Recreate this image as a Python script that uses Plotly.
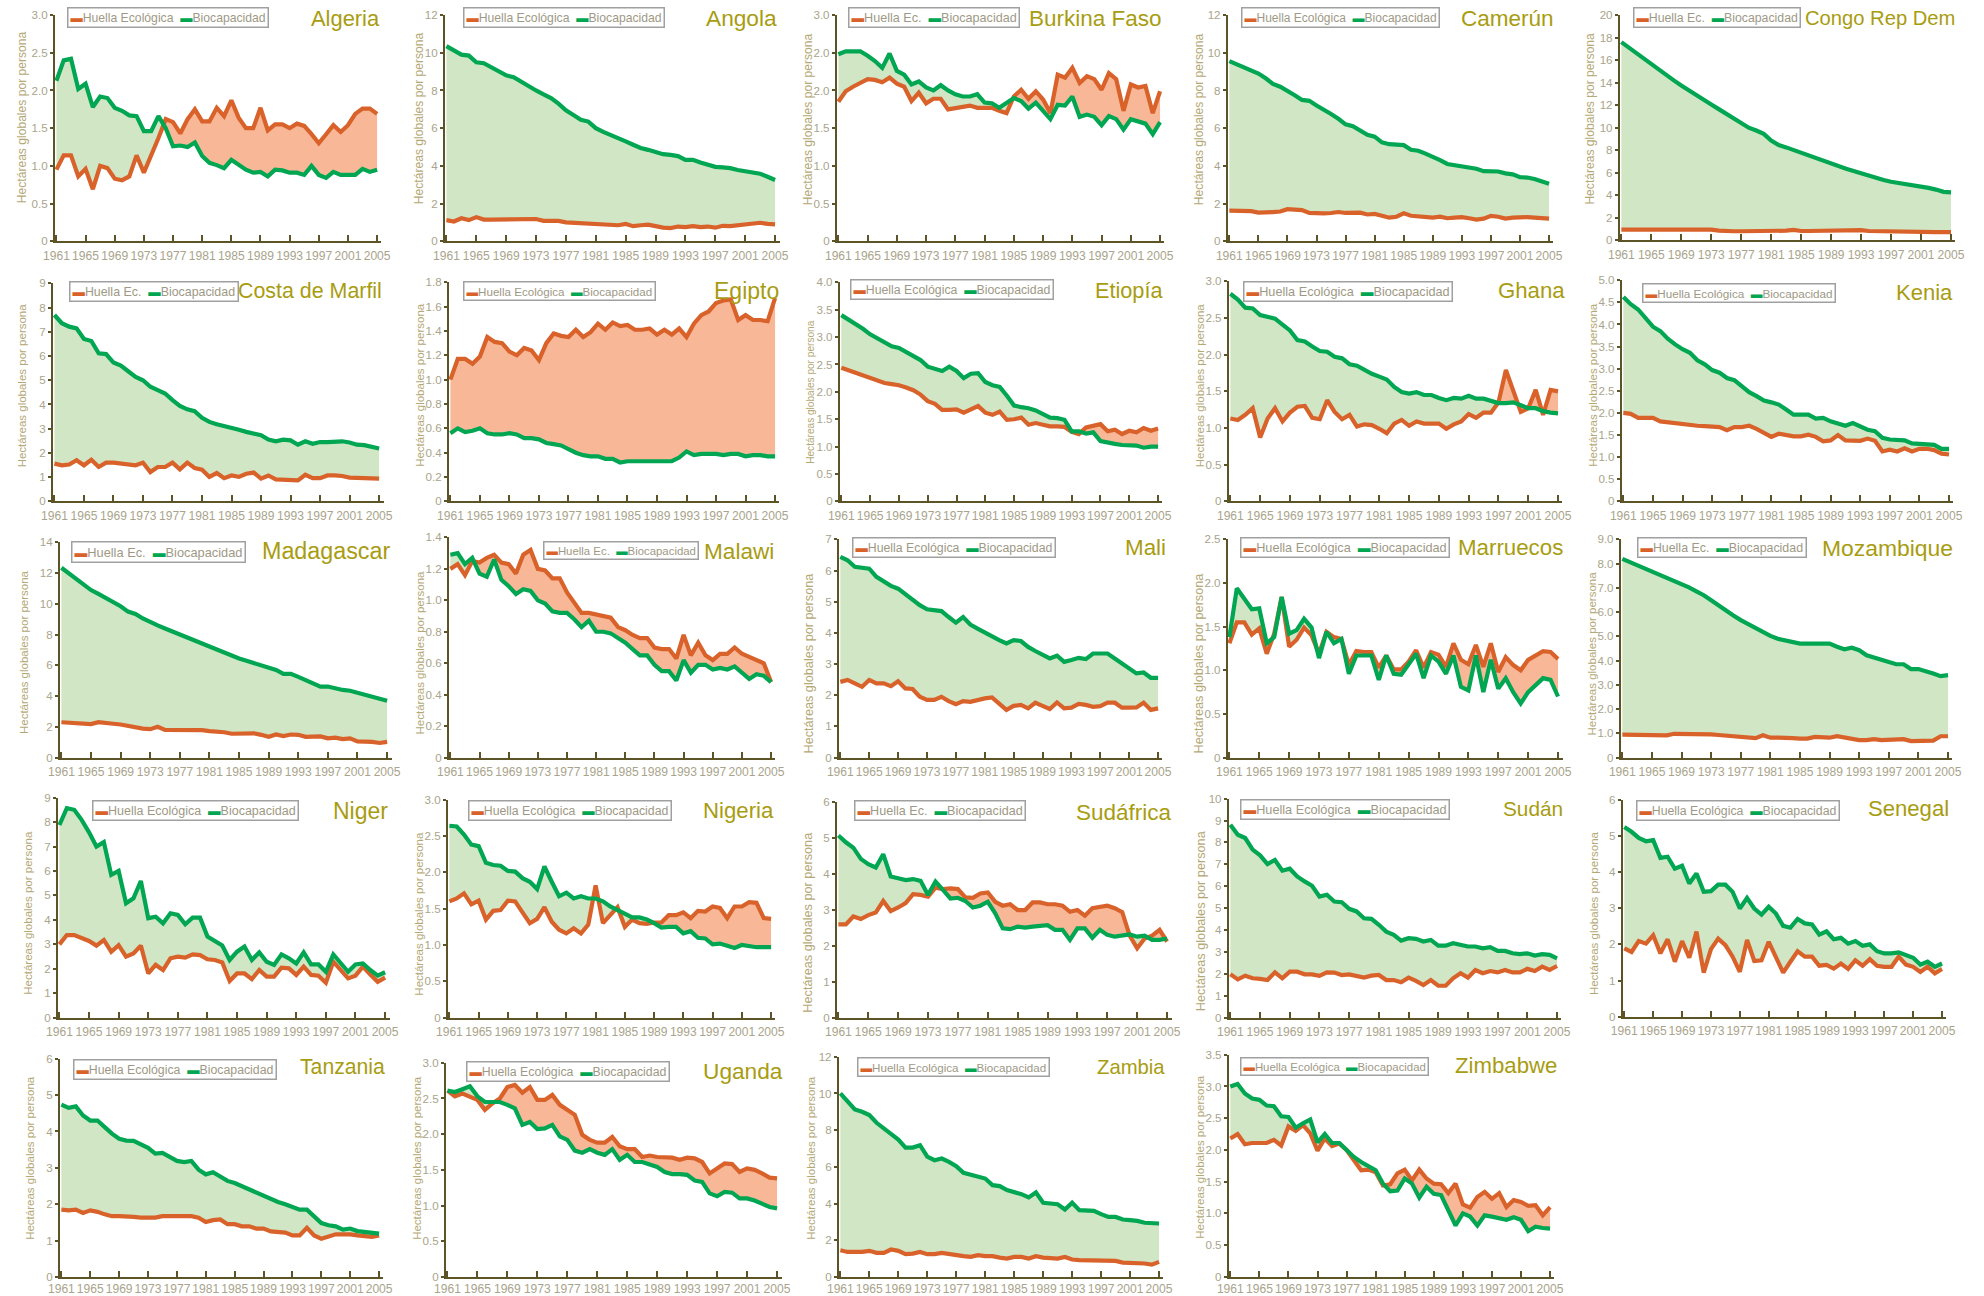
import plotly.graph_objects as go

# The page is photographed as a 2000 x 1312 CSS-pixel area (8 px body margin
# included) reduced to 1984 x 1296; positions below are in final image pixels
# and are mapped back to figure pixels with these factors.
SHOT_W, SHOT_H = 1984, 1296
CSS_W, CSS_H = 2000, 1312
BODY_MARGIN = 8
FIG_W, FIG_H = 1984, 1296
SX, SY = SHOT_W / CSS_W, SHOT_H / CSS_H

years = list(range(1961, 2006))
tick_years = list(range(1961, 2006, 4))

# ---------------------------------------------------------------------------
# Huella Ecológica (huella) y Biocapacidad (bio), hectáreas globales por persona
# ---------------------------------------------------------------------------
algeria_huella = [0.95, 1.14, 1.14, 0.86, 0.96, 0.69, 1.00, 0.97, 0.83, 0.81,
                  0.86, 1.14, 0.91, 1.13, 1.37, 1.62, 1.58, 1.43, 1.62, 1.75,
                  1.59, 1.59, 1.77, 1.66, 1.87, 1.64, 1.50, 1.50, 1.77, 1.47,
                  1.55, 1.55, 1.50, 1.56, 1.53, 1.42, 1.30, 1.42, 1.54, 1.45,
                  1.54, 1.69, 1.76, 1.76, 1.69]
algeria_bio = [2.13, 2.40, 2.42, 2.02, 2.09, 1.78, 1.92, 1.90, 1.77, 1.73,
               1.67, 1.66, 1.46, 1.46, 1.66, 1.50, 1.26, 1.27, 1.25, 1.31,
               1.13, 1.04, 1.01, 0.97, 1.08, 1.01, 0.95, 0.91, 0.92, 0.86,
               0.95, 0.94, 0.91, 0.91, 0.88, 1.00, 0.88, 0.84, 0.92, 0.88,
               0.88, 0.88, 0.96, 0.92, 0.95]

angola_huella = [1.12, 1.05, 1.22, 1.12, 1.28, 1.15, 1.15, 1.15, 1.15, 1.20,
                 1.20, 1.20, 1.18, 1.08, 1.08, 1.08, 1.00, 0.98, 0.95, 0.92,
                 0.92, 0.88, 0.85, 0.85, 0.92, 0.80, 0.85, 0.88, 0.80, 0.72,
                 0.70, 0.78, 0.75, 0.80, 0.75, 0.78, 0.72, 0.82, 0.80, 0.85,
                 0.90, 0.95, 0.98, 0.92, 0.90]
angola_bio = [10.35, 10.15, 9.90, 9.85, 9.50, 9.45, 9.25, 9.05, 8.80, 8.70,
              8.45, 8.20, 8.00, 7.80, 7.60, 7.30, 6.95, 6.70, 6.45, 6.35,
              6.00, 5.80, 5.65, 5.50, 5.30, 5.12, 4.95, 4.85, 4.72, 4.62,
              4.58, 4.52, 4.32, 4.32, 4.18, 4.08, 3.95, 3.92, 3.88, 3.78,
              3.70, 3.62, 3.58, 3.42, 3.25]

burkina_huella = [1.85, 1.99, 2.05, 2.10, 2.15, 2.14, 2.11, 2.17, 2.09, 2.05,
                  1.86, 1.97, 1.83, 1.89, 1.89, 1.75, 1.77, 1.78, 1.80, 1.77,
                  1.77, 1.77, 1.73, 1.70, 1.92, 2.01, 1.89, 1.99, 1.88, 1.70,
                  2.21, 2.17, 2.30, 2.10, 2.19, 2.15, 2.01, 2.23, 2.15, 1.73,
                  2.08, 2.04, 2.06, 1.70, 1.99]
burkina_bio = [2.48, 2.52, 2.52, 2.52, 2.46, 2.39, 2.30, 2.49, 2.26, 2.21,
               2.08, 2.12, 2.04, 2.00, 2.07, 2.00, 1.95, 1.92, 1.92, 1.95,
               1.84, 1.83, 1.77, 1.84, 1.90, 1.86, 1.76, 1.84, 1.73, 1.62,
               1.81, 1.80, 1.92, 1.65, 1.68, 1.65, 1.54, 1.66, 1.62, 1.48,
               1.62, 1.59, 1.56, 1.42, 1.58]

camerun_huella = [1.62, 1.62, 1.62, 1.60, 1.52, 1.52, 1.55, 1.58, 1.70, 1.68,
                  1.65, 1.50, 1.48, 1.48, 1.50, 1.55, 1.50, 1.50, 1.52, 1.42,
                  1.45, 1.35, 1.25, 1.30, 1.48, 1.35, 1.32, 1.28, 1.25, 1.30,
                  1.22, 1.25, 1.28, 1.22, 1.15, 1.20, 1.35, 1.30, 1.20, 1.25,
                  1.28, 1.28, 1.25, 1.22, 1.20]
camerun_bio = [9.56, 9.40, 9.25, 9.05, 8.90, 8.65, 8.35, 8.20, 8.00, 7.75,
               7.50, 7.45, 7.20, 7.00, 6.75, 6.50, 6.20, 6.10, 5.85, 5.65,
               5.55, 5.25, 5.15, 5.10, 5.10, 4.85, 4.80, 4.65, 4.50, 4.30,
               4.10, 4.05, 3.95, 3.95, 3.85, 3.72, 3.70, 3.70, 3.60, 3.55,
               3.40, 3.38, 3.30, 3.20, 3.05]

congo_huella = [0.95, 0.95, 0.95, 0.95, 0.95, 0.95, 0.95, 0.95, 0.95, 0.95,
                0.95, 0.95, 0.95, 0.85, 0.80, 0.80, 0.80, 0.80, 0.82, 0.82,
                0.83, 0.84, 0.85, 0.92, 0.82, 0.82, 0.83, 0.84, 0.85, 0.88,
                0.90, 0.90, 0.90, 0.82, 0.80, 0.80, 0.80, 0.80, 0.80, 0.78,
                0.72, 0.72, 0.72, 0.72, 0.72]
congo_bio = [17.60, 17.10, 16.60, 16.10, 15.60, 15.10, 14.65, 14.20, 13.75, 13.30,
             12.90, 12.45, 12.06, 11.65, 11.25, 10.85, 10.40, 10.00, 9.75, 9.45,
             8.85, 8.45, 8.25, 8.00, 7.80, 7.55, 7.30, 7.10, 6.85, 6.60,
             6.35, 6.15, 5.95, 5.70, 5.50, 5.35, 5.20, 5.10, 5.00, 4.90,
             4.75, 4.65, 4.50, 4.30, 4.25]

costa_huella = [1.56, 1.49, 1.52, 1.70, 1.49, 1.72, 1.42, 1.60, 1.60, 1.56,
                1.56, 1.49, 1.60, 1.21, 1.42, 1.42, 1.60, 1.32, 1.60, 1.38,
                1.31, 1.01, 1.17, 0.96, 1.07, 1.01, 1.14, 1.19, 0.94, 1.07,
                0.91, 0.91, 0.90, 0.87, 1.10, 0.96, 0.96, 1.07, 1.07, 1.05,
                0.98, 0.96, 0.95, 0.94, 0.94]
costa_bio = [7.69, 7.35, 7.21, 7.14, 6.70, 6.62, 6.11, 6.08, 5.73, 5.60,
             5.37, 5.14, 5.00, 4.73, 4.59, 4.45, 4.18, 3.94, 3.80, 3.72,
             3.45, 3.28, 3.18, 3.11, 3.07, 2.96, 2.87, 2.80, 2.73, 2.55,
             2.48, 2.55, 2.52, 2.34, 2.48, 2.38, 2.45, 2.45, 2.45, 2.48,
             2.43, 2.34, 2.32, 2.25, 2.18]

egipto_huella = [1.00, 1.17, 1.17, 1.13, 1.19, 1.35, 1.31, 1.30, 1.23, 1.20,
                 1.26, 1.24, 1.16, 1.30, 1.38, 1.36, 1.35, 1.41, 1.35, 1.39,
                 1.46, 1.41, 1.47, 1.44, 1.45, 1.41, 1.41, 1.42, 1.37, 1.41,
                 1.37, 1.42, 1.35, 1.46, 1.53, 1.56, 1.63, 1.65, 1.66, 1.49,
                 1.53, 1.49, 1.49, 1.48, 1.67]
egipto_bio = [0.56, 0.60, 0.57, 0.58, 0.60, 0.56, 0.55, 0.55, 0.56, 0.55,
              0.52, 0.52, 0.51, 0.48, 0.47, 0.46, 0.43, 0.40, 0.38, 0.37,
              0.37, 0.35, 0.35, 0.32, 0.33, 0.33, 0.33, 0.33, 0.33, 0.33,
              0.33, 0.36, 0.41, 0.38, 0.39, 0.39, 0.39, 0.38, 0.39, 0.39,
              0.37, 0.38, 0.38, 0.37, 0.37]

etiopia_huella = [2.44, 2.39, 2.34, 2.29, 2.25, 2.20, 2.16, 2.14, 2.12, 2.08,
                  2.03, 1.95, 1.83, 1.78, 1.67, 1.67, 1.68, 1.62, 1.68, 1.74,
                  1.62, 1.58, 1.64, 1.49, 1.50, 1.53, 1.40, 1.43, 1.40, 1.37,
                  1.37, 1.36, 1.27, 1.23, 1.35, 1.38, 1.41, 1.28, 1.31, 1.23,
                  1.29, 1.26, 1.34, 1.29, 1.33]
etiopia_bio = [3.40, 3.32, 3.24, 3.15, 3.05, 2.97, 2.90, 2.83, 2.80, 2.72,
               2.65, 2.58, 2.46, 2.41, 2.38, 2.46, 2.38, 2.25, 2.33, 2.34,
               2.18, 2.12, 2.09, 1.93, 1.75, 1.72, 1.70, 1.66, 1.60, 1.53,
               1.52, 1.49, 1.28, 1.28, 1.24, 1.26, 1.10, 1.07, 1.05, 1.03,
               1.03, 1.02, 0.98, 1.00, 1.00]

ghana_huella = [1.13, 1.11, 1.18, 1.27, 0.87, 1.13, 1.27, 1.09, 1.21, 1.29,
                1.30, 1.14, 1.12, 1.38, 1.22, 1.12, 1.18, 1.02, 1.05, 1.04,
                0.99, 0.93, 1.06, 1.11, 1.03, 1.09, 1.06, 1.06, 1.06, 0.99,
                1.05, 1.09, 1.19, 1.14, 1.21, 1.21, 1.35, 1.79, 1.50, 1.22,
                1.27, 1.52, 1.18, 1.52, 1.50]
ghana_bio = [2.83, 2.75, 2.64, 2.63, 2.54, 2.52, 2.49, 2.41, 2.33, 2.20,
             2.18, 2.11, 2.05, 2.04, 1.97, 1.95, 1.87, 1.85, 1.79, 1.74,
             1.70, 1.66, 1.56, 1.49, 1.47, 1.49, 1.45, 1.45, 1.41, 1.38,
             1.41, 1.40, 1.44, 1.40, 1.40, 1.37, 1.34, 1.34, 1.35, 1.31,
             1.27, 1.27, 1.23, 1.21, 1.20]

kenia_huella = [2.00, 1.98, 1.89, 1.89, 1.89, 1.81, 1.79, 1.76, 1.73, 1.71,
                1.71, 1.70, 1.68, 1.68, 1.61, 1.68, 1.68, 1.71, 1.64, 1.55,
                1.46, 1.53, 1.49, 1.47, 1.47, 1.51, 1.46, 1.36, 1.38, 1.50,
                1.38, 1.37, 1.37, 1.42, 1.37, 1.13, 1.17, 1.13, 1.20, 1.13,
                1.19, 1.19, 1.16, 1.08, 1.06]
kenia_bio = [4.62, 4.46, 4.34, 4.15, 3.95, 3.85, 3.68, 3.55, 3.44, 3.36,
             3.19, 3.10, 2.97, 2.91, 2.79, 2.74, 2.61, 2.47, 2.38, 2.28,
             2.24, 2.19, 2.08, 1.96, 1.96, 1.96, 1.87, 1.89, 1.81, 1.76,
             1.71, 1.77, 1.70, 1.62, 1.59, 1.44, 1.40, 1.38, 1.38, 1.31,
             1.30, 1.28, 1.28, 1.19, 1.19]

madagascar_huella = [2.30, 2.28, 2.25, 2.20, 2.18, 2.30, 2.22, 2.20, 2.15, 2.05,
                     1.95, 1.88, 1.85, 2.00, 1.80, 1.80, 1.80, 1.80, 1.80, 1.78,
                     1.72, 1.70, 1.65, 1.55, 1.55, 1.55, 1.58, 1.48, 1.35, 1.50,
                     1.40, 1.50, 1.48, 1.35, 1.35, 1.38, 1.25, 1.30, 1.20, 1.25,
                     1.05, 1.05, 1.02, 0.95, 1.02]
madagascar_bio = [12.35, 12.00, 11.60, 11.25, 10.90, 10.65, 10.40, 10.15, 9.85, 9.50,
                  9.35, 9.05, 8.80, 8.60, 8.40, 8.20, 8.00, 7.80, 7.60, 7.40,
                  7.20, 7.00, 6.80, 6.60, 6.45, 6.30, 6.15, 6.00, 5.85, 5.70,
                  5.45, 5.45, 5.25, 5.05, 4.85, 4.62, 4.62, 4.50, 4.40, 4.35,
                  4.22, 4.10, 3.98, 3.85, 3.70]

malawi_huella = [1.20, 1.23, 1.16, 1.25, 1.24, 1.27, 1.29, 1.24, 1.23, 1.17,
                 1.29, 1.32, 1.20, 1.19, 1.14, 1.14, 1.05, 0.99, 0.92, 0.92,
                 0.91, 0.90, 0.89, 0.83, 0.81, 0.78, 0.76, 0.76, 0.70, 0.69,
                 0.69, 0.63, 0.78, 0.65, 0.73, 0.65, 0.62, 0.66, 0.66, 0.70,
                 0.66, 0.64, 0.62, 0.60, 0.48]
malawi_bio = [1.29, 1.30, 1.23, 1.27, 1.17, 1.15, 1.26, 1.13, 1.09, 1.04,
              1.07, 1.06, 1.00, 0.98, 0.93, 0.92, 0.92, 0.88, 0.83, 0.87,
              0.80, 0.80, 0.79, 0.76, 0.73, 0.69, 0.65, 0.65, 0.59, 0.55,
              0.55, 0.49, 0.62, 0.54, 0.59, 0.59, 0.56, 0.57, 0.56, 0.58,
              0.54, 0.50, 0.53, 0.52, 0.48]

mali_huella = [2.43, 2.49, 2.38, 2.27, 2.49, 2.38, 2.38, 2.29, 2.45, 2.22,
               2.20, 1.95, 1.85, 1.85, 1.95, 1.81, 1.71, 1.81, 1.79, 1.85,
               1.90, 1.93, 1.74, 1.53, 1.66, 1.69, 1.58, 1.76, 1.66, 1.56,
               1.77, 1.58, 1.60, 1.72, 1.69, 1.63, 1.65, 1.76, 1.76, 1.60,
               1.60, 1.61, 1.76, 1.53, 1.58]
mali_bio = [6.44, 6.33, 6.12, 6.08, 6.06, 5.80, 5.64, 5.51, 5.42, 5.23,
            5.08, 4.89, 4.76, 4.73, 4.70, 4.51, 4.33, 4.51, 4.27, 4.14,
            4.01, 3.91, 3.77, 3.66, 3.77, 3.74, 3.55, 3.42, 3.29, 3.18,
            3.27, 3.07, 3.13, 3.20, 3.16, 3.34, 3.34, 3.34, 3.18, 3.02,
            2.86, 2.70, 2.73, 2.56, 2.56]

marruecos_huella = [1.31, 1.55, 1.55, 1.41, 1.48, 1.19, 1.42, 1.84, 1.27, 1.35,
                    1.49, 1.40, 1.19, 1.44, 1.38, 1.36, 1.06, 1.22, 1.21, 1.21,
                    1.03, 1.17, 1.01, 1.01, 1.10, 1.23, 1.03, 1.21, 1.18, 1.04,
                    1.31, 1.12, 1.07, 1.29, 1.04, 1.31, 0.98, 1.15, 1.06, 1.00,
                    1.12, 1.17, 1.22, 1.21, 1.13]
marruecos_bio = [1.38, 1.94, 1.82, 1.70, 1.71, 1.31, 1.38, 1.84, 1.42, 1.46,
                 1.59, 1.49, 1.14, 1.44, 1.31, 1.36, 0.96, 1.17, 1.17, 1.17,
                 0.89, 1.17, 0.96, 0.95, 1.07, 1.19, 0.91, 1.17, 1.10, 0.96,
                 1.17, 0.81, 0.77, 1.17, 0.75, 1.12, 0.79, 0.91, 0.75, 0.62,
                 0.75, 0.83, 0.91, 0.89, 0.70]

mozambique_huella = [0.95, 0.94, 0.93, 0.92, 0.92, 0.92, 0.92, 0.98, 0.98, 0.98,
                     0.97, 0.97, 0.96, 0.93, 0.90, 0.90, 0.88, 0.84, 0.80, 0.92,
                     0.82, 0.82, 0.83, 0.80, 0.78, 0.78, 0.85, 0.84, 0.82, 0.88,
                     0.83, 0.80, 0.72, 0.72, 0.76, 0.72, 0.72, 0.73, 0.76, 0.68,
                     0.68, 0.68, 0.70, 0.88, 0.88]
mozambique_bio = [8.20, 8.07, 7.93, 7.79, 7.65, 7.52, 7.40, 7.28, 7.17, 7.02,
                  6.86, 6.70, 6.49, 6.27, 6.05, 5.86, 5.67, 5.50, 5.35, 5.18,
                  5.02, 4.90, 4.84, 4.77, 4.70, 4.70, 4.70, 4.70, 4.70, 4.57,
                  4.47, 4.53, 4.43, 4.22, 4.12, 4.02, 3.92, 3.85, 3.85, 3.65,
                  3.65, 3.57, 3.47, 3.36, 3.40]

niger_huella = [3.00, 3.38, 3.38, 3.27, 3.14, 2.95, 3.18, 2.70, 2.97, 2.50,
                2.63, 2.95, 1.81, 2.16, 1.95, 2.43, 2.50, 2.46, 2.59, 2.56,
                2.39, 2.36, 2.26, 1.50, 1.81, 1.81, 1.58, 1.95, 1.68, 1.68,
                2.05, 2.02, 1.75, 2.09, 1.75, 1.72, 1.43, 2.29, 1.95, 1.61,
                1.72, 2.09, 1.77, 1.47, 1.64]
niger_bio = [7.88, 8.57, 8.50, 8.09, 7.58, 7.00, 7.18, 5.84, 6.00, 4.68,
             4.88, 5.59, 4.07, 4.13, 3.86, 4.27, 4.20, 3.82, 4.09, 4.09,
             3.32, 3.14, 2.95, 2.36, 2.70, 2.91, 2.36, 2.67, 2.29, 2.16,
             2.59, 2.43, 2.22, 2.67, 2.18, 2.18, 1.88, 2.59, 2.22, 1.88,
             2.18, 2.22, 1.95, 1.72, 1.86]

nigeria_huella = [1.60, 1.64, 1.71, 1.56, 1.61, 1.35, 1.47, 1.48, 1.61, 1.60,
                  1.45, 1.30, 1.36, 1.52, 1.32, 1.21, 1.16, 1.23, 1.16, 1.28,
                  1.82, 1.30, 1.41, 1.52, 1.25, 1.35, 1.30, 1.29, 1.31, 1.31,
                  1.41, 1.41, 1.45, 1.37, 1.47, 1.46, 1.53, 1.51, 1.37, 1.53,
                  1.53, 1.59, 1.58, 1.37, 1.36]
nigeria_bio = [2.64, 2.63, 2.52, 2.38, 2.36, 2.13, 2.10, 2.09, 2.02, 2.01,
               1.92, 1.87, 1.77, 2.08, 1.87, 1.67, 1.72, 1.64, 1.67, 1.64,
               1.64, 1.60, 1.53, 1.48, 1.44, 1.38, 1.38, 1.35, 1.30, 1.24,
               1.25, 1.25, 1.16, 1.19, 1.10, 1.09, 1.01, 1.02, 0.99, 0.96,
               1.00, 0.98, 0.97, 0.97, 0.97]

sudafrica_huella = [2.59, 2.59, 2.81, 2.74, 2.85, 2.92, 3.24, 2.96, 3.06, 3.18,
                    3.43, 3.41, 3.36, 3.61, 3.57, 3.59, 3.57, 3.34, 3.33, 3.45,
                    3.48, 3.22, 3.11, 3.15, 2.99, 2.99, 3.20, 3.20, 3.15, 3.15,
                    3.11, 2.94, 2.99, 2.83, 3.04, 3.08, 3.11, 3.04, 2.93, 2.28,
                    1.93, 2.20, 2.28, 2.44, 2.11]
sudafrica_bio = [5.06, 4.87, 4.72, 4.41, 4.26, 4.17, 4.54, 3.92, 3.87, 3.82,
                 3.85, 3.80, 3.41, 3.78, 3.55, 3.31, 3.33, 3.24, 3.06, 3.11,
                 3.22, 2.90, 2.48, 2.46, 2.53, 2.50, 2.53, 2.56, 2.57, 2.44,
                 2.44, 2.16, 2.48, 2.48, 2.22, 2.44, 2.30, 2.25, 2.28, 2.31,
                 2.25, 2.28, 2.16, 2.16, 2.20]

sudan_huella = [1.98, 1.75, 1.92, 1.80, 1.77, 1.72, 2.07, 1.80, 2.10, 2.10,
                1.98, 1.98, 1.91, 2.07, 2.06, 1.95, 1.98, 1.92, 1.83, 1.92,
                1.95, 1.72, 1.72, 1.62, 1.83, 1.68, 1.49, 1.72, 1.46, 1.46,
                1.80, 2.03, 1.83, 2.18, 2.03, 2.13, 2.07, 2.18, 2.07, 2.07,
                2.23, 2.13, 2.33, 2.18, 2.36]
sudan_bio = [8.81, 8.35, 8.20, 7.67, 7.41, 7.01, 7.20, 6.71, 6.80, 6.45,
             6.22, 6.02, 5.53, 5.61, 5.30, 5.27, 4.97, 4.85, 4.54, 4.51,
             4.24, 3.93, 3.78, 3.52, 3.63, 3.60, 3.48, 3.55, 3.29, 3.29,
             3.40, 3.32, 3.25, 3.25, 3.17, 3.22, 3.05, 3.05, 2.94, 2.90,
             2.94, 2.84, 2.90, 2.87, 2.71]

senegal_huella = [1.89, 1.79, 2.09, 2.02, 2.25, 1.75, 2.14, 1.52, 2.09, 1.63,
                  2.35, 1.22, 1.87, 2.16, 1.98, 1.66, 1.24, 2.12, 1.54, 1.56,
                  2.07, 1.63, 1.22, 1.52, 1.81, 1.66, 1.66, 1.41, 1.43, 1.33,
                  1.47, 1.32, 1.56, 1.41, 1.59, 1.41, 1.38, 1.38, 1.66, 1.44,
                  1.38, 1.24, 1.38, 1.20, 1.32]
senegal_bio = [5.24, 5.11, 4.94, 4.85, 4.88, 4.39, 4.42, 4.09, 4.17, 3.68,
               3.96, 3.45, 3.47, 3.65, 3.65, 3.45, 2.99, 3.28, 2.99, 2.82,
               3.04, 2.85, 2.51, 2.46, 2.70, 2.58, 2.55, 2.27, 2.36, 2.14,
               2.18, 2.02, 2.09, 1.96, 2.00, 1.81, 1.75, 1.75, 1.78, 1.70,
               1.63, 1.44, 1.52, 1.38, 1.47]

tanzania_huella = [1.85, 1.83, 1.85, 1.76, 1.83, 1.79, 1.72, 1.67, 1.67, 1.67,
                   1.65, 1.63, 1.63, 1.63, 1.67, 1.67, 1.67, 1.69, 1.67, 1.63,
                   1.51, 1.56, 1.58, 1.45, 1.45, 1.39, 1.39, 1.33, 1.33, 1.25,
                   1.24, 1.22, 1.14, 1.14, 1.35, 1.14, 1.05, 1.12, 1.17, 1.17,
                   1.17, 1.14, 1.12, 1.10, 1.14]
tanzania_bio = [4.74, 4.65, 4.69, 4.44, 4.30, 4.30, 4.12, 3.94, 3.80, 3.75,
                3.74, 3.64, 3.55, 3.39, 3.41, 3.30, 3.19, 3.16, 3.19, 2.95,
                2.82, 2.88, 2.75, 2.64, 2.58, 2.49, 2.40, 2.31, 2.24, 2.15,
                2.06, 2.00, 1.92, 1.85, 1.85, 1.65, 1.48, 1.42, 1.39, 1.30,
                1.33, 1.26, 1.24, 1.21, 1.19]

uganda_huella = [2.61, 2.53, 2.57, 2.52, 2.48, 2.34, 2.43, 2.50, 2.66, 2.69,
                 2.58, 2.66, 2.48, 2.48, 2.55, 2.41, 2.34, 2.27, 1.99, 1.92,
                 1.88, 1.88, 1.96, 1.83, 1.79, 1.79, 1.68, 1.70, 1.68, 1.67,
                 1.67, 1.64, 1.67, 1.66, 1.61, 1.45, 1.52, 1.59, 1.58, 1.47,
                 1.52, 1.50, 1.45, 1.39, 1.38]
uganda_bio = [2.61, 2.59, 2.63, 2.67, 2.53, 2.45, 2.45, 2.45, 2.41, 2.36,
              2.13, 2.17, 2.07, 2.08, 2.13, 1.97, 1.92, 1.77, 1.74, 1.79,
              1.74, 1.71, 1.79, 1.64, 1.71, 1.61, 1.61, 1.58, 1.54, 1.47,
              1.44, 1.44, 1.43, 1.35, 1.33, 1.17, 1.13, 1.19, 1.18, 1.10,
              1.10, 1.07, 1.03, 0.98, 0.96]

zambia_huella = [1.45, 1.36, 1.36, 1.36, 1.42, 1.31, 1.31, 1.49, 1.42, 1.24,
                 1.27, 1.36, 1.24, 1.24, 1.31, 1.24, 1.18, 1.13, 1.09, 1.18,
                 1.13, 1.13, 1.05, 1.00, 1.09, 1.09, 1.00, 1.13, 1.05, 1.00,
                 1.00, 1.09, 0.95, 0.91, 0.91, 0.87, 0.87, 0.87, 0.87, 0.78,
                 0.78, 0.78, 0.73, 0.67, 0.82]
zambia_bio = [10.00, 9.60, 9.13, 9.00, 8.82, 8.40, 8.09, 7.82, 7.49, 7.05,
              7.05, 7.18, 6.55, 6.36, 6.45, 6.27, 6.04, 5.67, 5.55, 5.49,
              5.36, 5.00, 4.95, 4.73, 4.64, 4.51, 4.33, 4.60, 4.04, 4.00,
              3.96, 3.67, 4.04, 3.64, 3.64, 3.60, 3.42, 3.27, 3.27, 3.13,
              3.09, 3.05, 2.95, 2.91, 2.91]

zimbabwe_huella = [2.18, 2.25, 2.09, 2.11, 2.11, 2.11, 2.16, 2.07, 2.37, 2.30,
                   2.39, 2.26, 1.99, 2.18, 2.06, 2.10, 2.00, 1.84, 1.68, 1.69,
                   1.65, 1.44, 1.46, 1.63, 1.69, 1.52, 1.69, 1.55, 1.47, 1.46,
                   1.32, 1.47, 1.14, 1.09, 1.26, 1.34, 1.23, 1.32, 1.10, 1.21,
                   1.18, 1.12, 1.13, 0.97, 1.10]
zimbabwe_bio = [3.00, 3.04, 2.89, 2.81, 2.79, 2.70, 2.69, 2.53, 2.52, 2.35,
                2.42, 2.48, 2.12, 2.25, 2.11, 2.11, 2.00, 1.89, 1.81, 1.74,
                1.68, 1.47, 1.35, 1.36, 1.55, 1.47, 1.25, 1.42, 1.31, 1.29,
                1.05, 0.81, 1.00, 0.95, 0.81, 0.97, 0.95, 0.92, 0.90, 0.94,
                0.90, 0.72, 0.79, 0.77, 0.76]

# name, huella, bio, y max, y step, decimals, legend label for the footprint
panels = [
    ("Algeria", algeria_huella, algeria_bio, 3.0, 0.5, 1, "Huella Ecológica"),
    ("Angola", angola_huella, angola_bio, 12, 2, 0, "Huella Ecológica"),
    ("Burkina Faso", burkina_huella, burkina_bio, 3.0, 0.5, 1, "Huella Ec."),
    ("Camerún", camerun_huella, camerun_bio, 12, 2, 0, "Huella Ecológica"),
    ("Congo Rep Dem", congo_huella, congo_bio, 20, 2, 0, "Huella Ec."),
    ("Costa de Marfil", costa_huella, costa_bio, 9, 1, 0, "Huella Ec."),
    ("Egipto", egipto_huella, egipto_bio, 1.8, 0.2, 1, "Huella Ecológica"),
    ("Etiopía", etiopia_huella, etiopia_bio, 4.0, 0.5, 1, "Huella Ecológica"),
    ("Ghana", ghana_huella, ghana_bio, 3.0, 0.5, 1, "Huella Ecológica"),
    ("Kenia", kenia_huella, kenia_bio, 5.0, 0.5, 1, "Huella Ecológica"),
    ("Madagascar", madagascar_huella, madagascar_bio, 14, 2, 0, "Huella Ec."),
    ("Malawi", malawi_huella, malawi_bio, 1.4, 0.2, 1, "Huella Ec."),
    ("Mali", mali_huella, mali_bio, 7, 1, 0, "Huella Ecológica"),
    ("Marruecos", marruecos_huella, marruecos_bio, 2.5, 0.5, 1, "Huella Ecológica"),
    ("Mozambique", mozambique_huella, mozambique_bio, 9.0, 1.0, 1, "Huella Ec."),
    ("Niger", niger_huella, niger_bio, 9, 1, 0, "Huella Ecológica"),
    ("Nigeria", nigeria_huella, nigeria_bio, 3.0, 0.5, 1, "Huella Ecológica"),
    ("Sudáfrica", sudafrica_huella, sudafrica_bio, 6, 1, 0, "Huella Ec."),
    ("Sudán", sudan_huella, sudan_bio, 10, 1, 0, "Huella Ecológica"),
    ("Senegal", senegal_huella, senegal_bio, 6, 1, 0, "Huella Ecológica"),
    ("Tanzania", tanzania_huella, tanzania_bio, 6, 1, 0, "Huella Ecológica"),
    ("Uganda", uganda_huella, uganda_bio, 3.0, 0.5, 1, "Huella Ecológica"),
    ("Zambia", zambia_huella, zambia_bio, 12, 2, 0, "Huella Ecológica"),
    ("Zimbabwe", zimbabwe_huella, zimbabwe_bio, 3.5, 0.5, 1, "Huella Ecológica"),
]

# the Burkina Faso axis prints its 2.5 gridline as "2.0"
tick_text_override = {
    "Burkina Faso": ["0", "0.5", "1.0", "1.5", "2.0", "2.0", "3.0"],
}

# ---------------------------------------------------------------------------
# Layout in image pixels
# frame: (y-axis x, x of the last year, y of top tick, y of zero)
# legend: (box left, box top, box width)
# title: (right edge, vertical centre, font size)
# ytitle: (offset from y axis, offset from plot middle, font size)
# ---------------------------------------------------------------------------
frames = [
    (51, 374, 16, 242), (442, 773, 16, 242), (835, 1159, 16, 242),
    (1227, 1549, 16, 242), (1620, 1952, 16, 241),
    (49, 376, 284, 502), (446, 773, 283, 502), (838, 1157, 283, 502),
    (1228, 1558, 282, 502), (1622, 1950, 281, 502),
    (56, 384, 543, 758), (446, 769, 538, 758), (837, 1157, 540, 758),
    (1227, 1558, 540, 758), (1621, 1949, 540, 758),
    (54, 382, 798, 1018), (445, 769, 800, 1018), (835, 1166, 802, 1018),
    (1228, 1557, 799, 1018), (1623, 1943, 800, 1017),
    (56, 376, 1059, 1277), (443, 775, 1063, 1277), (837, 1158, 1057, 1277),
    (1228, 1550, 1055, 1277),
]
legend_boxes = [
    (63, 8, 207), (460, 8, 207), (846, 8, 171), (1240, 8, 203), (1633, 8, 167),
    (65, 282, 168), (460, 282, 196), (848, 280, 209), (1242, 282, 214), (1642, 284, 199),
    (67, 542, 173), (540, 542, 155), (850, 538, 209), (1239, 538, 214), (1637, 538, 169),
    (88, 800, 211), (465, 800, 209), (852, 800, 171), (1239, 799, 215), (1636, 800, 208),
    (69, 1059, 208), (463, 1061, 208), (855, 1057, 196), (1239, 1057, 194),
]
titles = [
    (379, 19, 21.7), (777, 19, 22.5), (1163, 19, 22.3), (1556, 19, 22.3), (1958, 19, 20),
    (381, 292, 21.2), (779, 292, 22.8), (1164, 291, 21.5), (1567, 291, 22), (1956, 293, 21.8),
    (389, 552, 23.1), (774, 552, 22.4), (1167, 548, 22.2), (1565, 548, 22.1), (1956, 549, 22.7),
    (387, 811, 22.8), (774, 811, 22), (1173, 813, 22.3), (1565, 809, 20.6), (1952, 809, 21.9),
    (384, 1067, 21), (783, 1071, 22.5), (1166, 1067, 20.1), (1559, 1066, 22),
]
ytitles = [
    (-33, -11, 12), (-26, -10, 12), (-29, -9, 12), (-29, -9, 12), (-30, -9, 12),
    (-31, -7, 11.4), (-29, -7, 11.4), (-29, 0, 10), (-29, -6, 11.4), (-29, -6, 11.4),
    (-36, 2, 11.4), (-29, 5, 11.4), (-30, 14, 12.6), (-29, 14, 12.6), (-29, 5, 11.4),
    (-30, 5, 11.4), (-29, 5, 11.4), (-29, 12, 12.6), (-28, 12, 12.6), (-29, 5, 11.4),
    (-30, -10, 11.4), (-29, -12, 11.4), (-28, -9, 11.4), (-29, -9, 11.4),
]
BOTTOM_ROW = {"Tanzania", "Uganda", "Zambia", "Zimbabwe"}

C_HUELLA = "#d9622b"
C_BIO = "#00a651"
F_BIO = "#d0e6c4"
F_HUELLA = "#f8b898"
C_AXIS = "#5c5326"
C_TICK = "#a9a48b"
C_TITLE = "#a89c10"
C_YTITLE = "#b4a976"
C_LEGEND = "#9e9985"
FONT = "Liberation Sans, Arial, sans-serif"
FONT_NARROW = "Liberation Sans Narrow, Arial Narrow, Liberation Sans, sans-serif"

# legend text widths in em (marker + label + gap + marker + "Biocapacidad")
LEGEND_EM = {"Huella Ecológica": 16.49, "Huella Ec.": 13.12}
LEGEND_PAD, LEGEND_BORDER = 2, 1.5

X0, X1 = 1960.8, 2005.6


def fx(p):
    """Image x pixel -> paper fraction."""
    return (p / SX - BODY_MARGIN) / FIG_W


def fy(p):
    """Image y pixel -> paper fraction."""
    return 1 - (p / SY - BODY_MARGIN) / FIG_H


def fs(size):
    """Font size compensated for the reduction of the photograph."""
    return round(size / SX, 1)


def with_crossings(xs, h, b):
    """Insert the points where the two series cross so the fills switch cleanly."""
    ox, oh, ob = [xs[0]], [h[0]], [b[0]]
    for i in range(1, len(xs)):
        d0 = b[i - 1] - h[i - 1]
        d1 = b[i] - h[i]
        if d0 * d1 < 0:
            t = d0 / (d0 - d1)
            xc = xs[i - 1] + t * (xs[i] - xs[i - 1])
            yc = h[i - 1] + t * (h[i] - h[i - 1])
            ox.append(xc)
            oh.append(yc)
            ob.append(yc)
        ox.append(xs[i])
        oh.append(h[i])
        ob.append(b[i])
    return ox, oh, ob


fig = go.Figure()
annotations = []

for k, (name, huella, bio, ymax, step, dec, hlabel) in enumerate(panels):
    n = k + 1
    xa = "x" if n == 1 else f"x{n}"
    ya = "y" if n == 1 else f"y{n}"
    L, R, top, bottom = frames[k]
    px_per_year = (R - L) / (2005 - X0)
    right = R + (X1 - 2005) * px_per_year

    ex, eh, eb = with_crossings(years, huella, bio)
    upper = [max(a, c) for a, c in zip(eh, eb)]

    # green area where biocapacity exceeds the footprint
    fig.add_trace(go.Scatter(x=ex, y=eh, mode="lines", line=dict(width=0),
                             xaxis=xa, yaxis=ya, hoverinfo="skip", showlegend=False))
    fig.add_trace(go.Scatter(x=ex, y=upper, mode="lines", line=dict(width=0),
                             fill="tonexty", fillcolor=F_BIO,
                             xaxis=xa, yaxis=ya, hoverinfo="skip", showlegend=False))
    # orange area where the footprint exceeds biocapacity
    fig.add_trace(go.Scatter(x=ex, y=eb, mode="lines", line=dict(width=0),
                             xaxis=xa, yaxis=ya, hoverinfo="skip", showlegend=False))
    fig.add_trace(go.Scatter(x=ex, y=upper, mode="lines", line=dict(width=0),
                             fill="tonexty", fillcolor=F_HUELLA,
                             xaxis=xa, yaxis=ya, hoverinfo="skip", showlegend=False))
    # the two series
    fig.add_trace(go.Scatter(x=years, y=huella, mode="lines", name="Huella Ecológica",
                             line=dict(color=C_HUELLA, width=4.2),
                             xaxis=xa, yaxis=ya, showlegend=False))
    fig.add_trace(go.Scatter(x=years, y=bio, mode="lines", name="Biocapacidad",
                             line=dict(color=C_BIO, width=4.2),
                             xaxis=xa, yaxis=ya, showlegend=False))

    nticks = int(round(ymax / step))
    tickvals = [round(i * step, 6) for i in range(nticks + 1)]
    ticktext = tick_text_override.get(
        name, ["0" if v == 0 else f"{v:.{dec}f}" for v in tickvals])

    fig.layout[f"xaxis{'' if n == 1 else n}"] = dict(
        domain=[fx(L), fx(right)], range=[X0, X1], anchor=ya,
        tickmode="array", tickvals=tick_years, ticktext=[str(t) for t in tick_years],
        ticks="inside", ticklen=6, tickwidth=2, tickcolor=C_AXIS,
        showline=True, linecolor=C_AXIS, linewidth=2,
        showgrid=False, zeroline=False, tickangle=0,
        ticklabelstandoff=0 if name in BOTTOM_ROW else 2,
        tickfont=dict(family=FONT_NARROW, size=fs(12), color=C_TICK),
        fixedrange=True,
    )
    fig.layout[f"yaxis{'' if n == 1 else n}"] = dict(
        domain=[fy(bottom), fy(top)], range=[0, ymax], anchor=xa,
        tickmode="array", tickvals=tickvals, ticktext=ticktext,
        ticks="outside", ticklen=3, tickwidth=1.5, tickcolor=C_AXIS,
        showline=True, linecolor=C_AXIS, linewidth=2,
        showgrid=False, zeroline=False,
        tickfont=dict(family=FONT_NARROW, size=fs(11.5), color=C_TICK),
        fixedrange=True,
    )

    # y-axis title
    dx, dy, ysize = ytitles[k]
    annotations.append(dict(
        xref="paper", yref="paper", x=fx(L + dx), y=fy((top + bottom) / 2 + dy),
        xanchor="center", yanchor="middle", textangle=-90, showarrow=False,
        text="Hectáreas globales por persona",
        font=dict(family=FONT, size=fs(ysize), color=C_YTITLE)))

    # country name
    tx, ty, tsize = titles[k]
    annotations.append(dict(
        xref="paper", yref="paper", x=fx(tx), y=fy(ty),
        xanchor="right", yanchor="middle", showarrow=False, text=name,
        font=dict(family=FONT, size=fs(tsize), color=C_TITLE)))

    # boxed legend, text sized to fill the box
    lx, ly, lw = legend_boxes[k]
    lsize = (lw - 2 * LEGEND_PAD - 2 * LEGEND_BORDER) / LEGEND_EM[hlabel]
    annotations.append(dict(
        xref="paper", yref="paper", x=fx(lx), y=fy(ly),
        xanchor="left", yanchor="top", showarrow=False,
        text=(f"<span style='color:{C_HUELLA}'>▬</span>{hlabel}  "
              f"<span style='color:{C_BIO}'>▬</span>Biocapacidad"),
        font=dict(family=FONT, size=fs(lsize), color=C_LEGEND),
        bgcolor="white", bordercolor="#a0a0a0",
        borderwidth=LEGEND_BORDER, borderpad=LEGEND_PAD))

fig.update_layout(
    width=FIG_W, height=FIG_H, margin=dict(l=0, r=0, t=0, b=0),
    paper_bgcolor="white", plot_bgcolor="rgba(0,0,0,0)",
    showlegend=False, annotations=annotations,
)

fig.write_html("out.html")
